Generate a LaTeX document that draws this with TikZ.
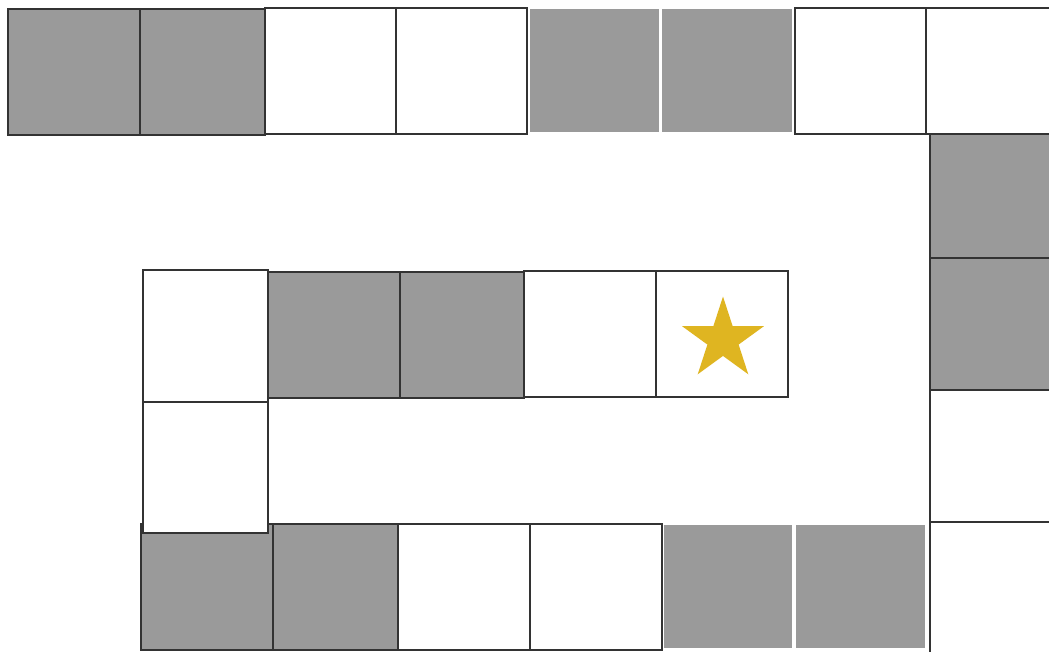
\documentclass[tikz,border=0pt]{standalone}
\usetikzlibrary{shapes.geometric}
\definecolor{cellgray}{HTML}{9A9A9A}
\definecolor{linec}{HTML}{333333}
\definecolor{starc}{HTML}{DFB521}
\begin{document}
\begin{tikzpicture}[x=1pt,y=-1pt,
  wcell/.style={draw=linec, line width=1.5pt, fill=white},
  gcell/.style={draw=linec, line width=1.5pt, fill=cellgray},
  gplain/.style={fill=cellgray}]
\useasboundingbox (0,0) rectangle (1049,652);
\clip (0,0) rectangle (1049,652);
% top row
\path[gcell] (8,9) rectangle (140,135);
\path[gcell] (140,9) rectangle (265,135);
\path[wcell] (265,8) rectangle (396,134);
\path[wcell] (396,8) rectangle (527,134);
\path[gplain] (530,9) rectangle (659,132);
\path[gplain] (662,9) rectangle (792,132);
\path[wcell] (795,8) rectangle (926,134);
\path[wcell] (926,8) rectangle (1055,134);
% right column
\path[gcell] (930,134) rectangle (1055,258);
\path[gcell] (930,258) rectangle (1055,390);
\path[wcell] (930,390) rectangle (1055,522);
\path[wcell] (930,522) rectangle (1055,658);
% bottom row
\path[gcell] (141,524) rectangle (273,650);
\path[gcell] (273,524) rectangle (398,650);
\path[wcell] (398,524) rectangle (530,650);
\path[wcell] (530,524) rectangle (662,650);
\path[gplain] (664,525) rectangle (792,648);
\path[gplain] (796,525) rectangle (925,648);
% middle row
\path[gcell] (268,272) rectangle (400,398);
\path[gcell] (400,272) rectangle (524,398);
\path[wcell] (524,271) rectangle (656,397);
\path[wcell] (656,271) rectangle (788,397);
% left column
\path[wcell] (143,270) rectangle (268,402);
\path[wcell] (143,402) rectangle (268,533);
% star
\node[star, star points=5, star point ratio=2.618, fill=starc, draw=none,
      minimum size=86pt, inner sep=0pt] (goal) at (723,339.5) {};
\end{tikzpicture}
\end{document}
